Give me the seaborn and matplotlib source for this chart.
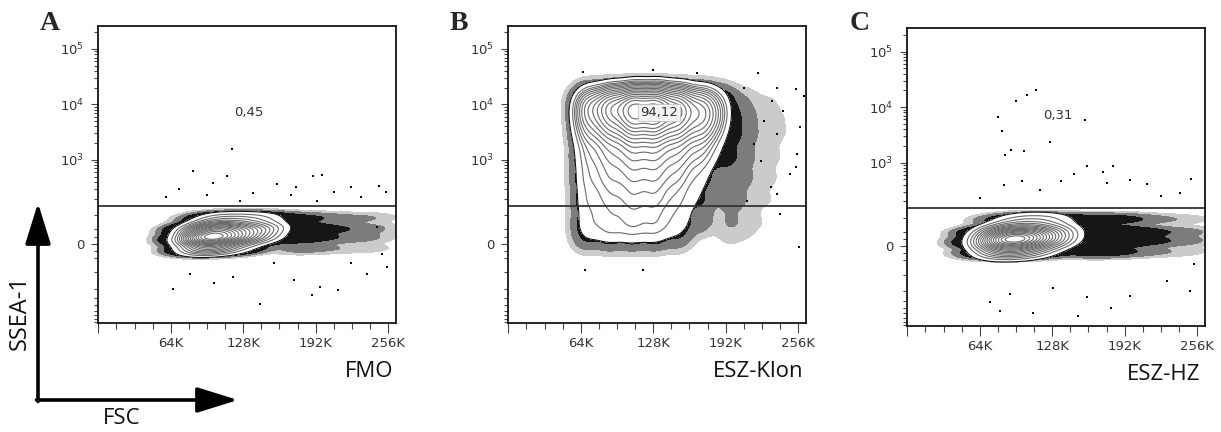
import numpy as np
import pandas as pd
import matplotlib.pyplot as plt
import seaborn as sns

sns.set_theme(style='white')
plt.rcParams['font.family'] = ['DejaVu Sans']

# Samples, panel letters and gate statistic (% SSEA-1+)
samples = ['FMO', 'ESZ-Klon', 'ESZ-HZ']
letters = ['A', 'B', 'C']
gate_pct = ['0,45', '94,12', '0,31']
gate_level = 150

# Axis ticks (FSC in K, SSEA-1 fluorescence)
fsc_ticks = [0, 64, 128, 192, 256]
fsc_labels = ['', '64K', '128K', '192K', '256K']
ssea_ticks = [0, 1e3, 1e4, 1e5]
ssea_labels = ['0', '$10^3$', '$10^4$', '$10^5$']

# ---- A: FMO ---- event density (grid of FSC x SSEA-1 weights)
a_cols = [80, 90, 100, 110, 122, 134, 146, 158]
a_rows = [90, 52, 20, -18]
a_core = [[0.0, 0.6, 1.0, 1.3, 1.4, 1.3, 1.0, 0.6],
          [1.5, 3.5, 4.5, 4.6, 4.0, 3.2, 2.3, 1.3],
          [3.0, 6.0, 7.0, 6.0, 4.5, 3.0, 1.6, 0.6],
          [1.4, 2.4, 2.6, 2.0, 1.2, 0.5, 0.0, 0.0]]
a_tail_cols = [176, 192, 210, 230, 248]
a_tail = [[0.5, 0.35, 0.25, 0.2, 0.15],
          [1.0, 0.65, 0.4, 0.3, 0.2],
          [0.8, 0.5, 0.3, 0.25, 0.15],
          [0.3, 0.2, 0.15, 0.1, 0.1]]
a_dot_x = [118, 84, 71, 114, 101, 158, 190, 198, 248, 254, 60, 137, 170, 208, 232, 96, 125, 223, 175, 193,
           66, 143, 189, 212, 255, 102, 119, 173, 237, 81, 155, 223, 196, 251, 246]
a_dot_y = [1600, 640, 300, 510, 380, 370, 510, 540, 340, 260, 213, 251, 228, 262, 213, 228, 185, 321, 321, 185,
           -207, -379, -262, -213, -82, -161, -122, -141, -107, -107, -70, -70, -185, -35, 59]

# ---- B: ESZ-Klon ----
b_cols = [70, 90, 110, 130, 150, 170, 185]
b_rows = [11500, 5800, 2800, 1150, 470, 190, 78, 25]
b_core = [[4.0, 7.0, 10.0, 10.0, 7.0, 4.0, 1.5],
          [3.5, 6.0, 9.0, 9.0, 7.0, 4.5, 2.0],
          [2.5, 4.0, 6.0, 6.0, 4.5, 3.0, 1.2],
          [2.0, 3.0, 4.0, 4.0, 3.0, 2.0, 0.6],
          [1.8, 2.5, 3.0, 3.0, 2.2, 1.2, 0.0],
          [1.6, 2.0, 2.4, 2.4, 1.6, 0.8, 0.0],
          [1.3, 1.6, 1.8, 1.7, 1.2, 0.5, 0.0],
          [0.8, 1.0, 1.0, 1.0, 0.6, 0.0, 0.0]]
b_tail_cols = [195, 210, 230, 250]
b_tail = [[0.4, 0.2, 0.08, 0.04],
          [0.7, 0.35, 0.12, 0.06],
          [0.8, 0.4, 0.15, 0.06],
          [0.7, 0.35, 0.12, 0.06],
          [0.55, 0.3, 0.1, 0.05],
          [0.4, 0.2, 0.08, 0.04],
          [0.25, 0.15, 0.06, 0.03],
          [0.1, 0.05, 0.03, 0.0]]
b_dot_x = [66, 128, 167, 221, 237, 254, 261, 243, 237, 255, 249, 237, 254, 223, 232, 240, 257, 68, 119,
           226, 217, 233, 211, 258, 208]
b_dot_y = [38400, 41700, 37300, 36300, 20100, 18700, 14200, 7650, 2920, 1280, 558, 244, 735, 968, 321, 106,
           -12, -92, -92, 5060, 1930, 11600, 185, 3850, 20100]

# ---- C: ESZ-HZ ----
c_cols = [70, 82, 94, 106, 118, 130, 142]
c_rows = [95, 50, 18, -20]
c_core = [[0.0, 0.6, 1.0, 1.2, 1.2, 0.9, 0.5],
          [2.0, 4.0, 4.8, 4.6, 3.6, 2.4, 1.2],
          [3.5, 6.5, 7.0, 5.8, 4.0, 2.4, 1.0],
          [1.4, 2.5, 2.6, 2.0, 1.1, 0.4, 0.0]]
c_tail_cols = [162, 176, 190, 205, 222, 240, 255]
c_tail = [[0.8, 0.7, 0.5, 0.3, 0.18, 0.12, 0.08],
          [2.0, 1.6, 1.1, 0.65, 0.38, 0.25, 0.18],
          [2.0, 1.6, 1.1, 0.65, 0.38, 0.25, 0.18],
          [0.8, 0.6, 0.4, 0.25, 0.16, 0.1, 0.07]]
c_dot_x = [80, 84, 86, 96, 106, 114, 103, 92, 126, 157, 159, 173, 182, 251, 197, 147, 85, 101, 136, 212,
           241, 64, 117, 176, 224,
           73, 82, 111, 151, 180, 197, 250, 159, 91, 229, 253, 129]
c_dot_y = [6760, 3640, 1350, 12900, 16600, 20400, 1590, 1700, 2340, 5890, 855, 676, 855, 507, 493, 623,
           400, 460, 460, 411, 284, 232, 327, 431, 248,
           -308, -448, -500, -558, -406, -240, -196, -258, -225, -129, -63, -176]


def biex(v):
    # biexponential-like display: linear around 0, log above 100
    v = np.asarray(v, float)
    a = np.abs(v)
    return np.sign(v) * np.where(a <= 100, a / 100 * 0.51, 0.51 + np.log10(np.maximum(a, 100) / 100))


def grid(cols, rows, w):
    xx, yy = np.meshgrid(cols, rows)
    df = pd.DataFrame({'fsc': xx.ravel().astype(float), 'ssea': biex(yy.ravel()), 'w': np.ravel(w)})
    return df[df['w'] > 0].reset_index(drop=True)


def kde(ax, df, bw, **kw):
    sns.kdeplot(data=df, x='fsc', y='ssea', weights='w', bw_adjust=bw, color='black', ax=ax, **kw)


panels = [
    (a_cols, a_rows, a_core, a_tail_cols, a_tail, a_dot_x, a_dot_y, 0.95, 0.72),
    (b_cols, b_rows, b_core, b_tail_cols, b_tail, b_dot_x, b_dot_y, 0.55, 0.42),
    (c_cols, c_rows, c_core, c_tail_cols, c_tail, c_dot_x, c_dot_y, 1.05, 0.68),
]
ax_pos = [[98.3, 323.3], [508.3, 323.3], [907.3, 326.0]]
W, H = 1221, 432

fig = plt.figure(figsize=(12.21, 4.32), dpi=100)

for i, (cols, rows, core_w, tcols, tail_w, dx, dy, bw, bw_halo) in enumerate(panels):
    left, bottom = ax_pos[i]
    ax = fig.add_axes([left / W, 1 - bottom / H, 297.7 / W, 297.6 / H])
    core = grid(cols, rows, core_w)
    halo = pd.concat([core, grid(tcols, rows, tail_w)], ignore_index=True)

    # outlier fringe: sparse speckle (light), dense dots (dark) next to the contours
    kde(ax, halo, bw_halo, fill=True, levels=[0.005, 0.018, 0.055, 1],
        colors=['#cbcbcb', '#7c7c7c', '#161616'])
    # white inside the outer contour
    kde(ax, core, bw, fill=True, levels=[0.05, 1], colors=['white'])
    sns.scatterplot(x=dx, y=biex(dy), s=4, marker='s', color='black', linewidth=0, ax=ax)
    n = 18
    kde(ax, core, bw, levels=n, thresh=0.05, colors=['#111111'] + ['#6a6a6a'] * (n - 1), linewidths=0.8)

    ax.axhline(biex(gate_level), color='#333333', lw=1.3)
    ax.set_xlim(0, 263)
    ax.set_ylim(biex(-843), biex(262144))
    ax.set_xlabel('')
    ax.set_ylabel('')

    ax.set_xticks(fsc_ticks)
    ax.set_xticklabels(fsc_labels)
    ax.set_xticks(np.arange(16, 263, 16), minor=True)
    ax.set_yticks(biex(ssea_ticks))
    ax.set_yticklabels(ssea_labels)
    minor_v = [m * 10 ** k for k in range(2, 6) for m in range(1, 10) if m * 10 ** k < 262144]
    minor_v += [-m * 100 for m in range(1, 9)] + [-50, -25, 25, 50]
    ax.set_yticks(biex(minor_v), minor=True)
    ax.tick_params(axis='both', which='both', direction='out', color='#444444', labelcolor='#333333',
                   labelsize=9.5, width=0.8, bottom=True, left=True)
    ax.tick_params(axis='x', which='major', length=7, pad=3)
    ax.tick_params(axis='x', which='minor', length=4)
    ax.tick_params(axis='y', which='major', length=5, pad=5)
    ax.tick_params(axis='y', which='minor', length=3)
    for s in ax.spines.values():
        s.set_color('black')
        s.set_linewidth(1.2)

    txt = ax.text(133, biex(7030), gate_pct[i], ha='center', va='center', fontsize=9.5, color='#333333')
    if i == 1:
        txt.set_bbox(dict(boxstyle='square,pad=0.15', fc='#f2f2f2', ec='#bbbbbb', lw=0.5))
    ax.text(0.99 if i < 2 else 0.985, -0.163, samples[i], transform=ax.transAxes, ha='right', va='center',
            fontsize=16, family='Open Sans', color='#111111')

for x, l in zip([40, 450, 850], letters):
    fig.text(x / W, 1 - 23 / H, l, ha='left', va='center', fontsize=20, fontweight='bold',
             family='Liberation Serif')

# FSC / SSEA-1 arrows
arrow = dict(arrowstyle='-|>,head_length=0.9,head_width=0.28', lw=2.6, color='black',
             mutation_scale=28, shrinkA=0, shrinkB=0)
fig.add_artist(plt.Annotation('', xy=(38, H - 203), xytext=(38, H - 401.5), xycoords='figure pixels',
                              textcoords='figure pixels', arrowprops=arrow))
fig.add_artist(plt.Annotation('', xy=(238, H - 400), xytext=(36.5, H - 400), xycoords='figure pixels',
                              textcoords='figure pixels', arrowprops=arrow))
fig.text(20 / W, 1 - 313 / H, 'SSEA-1', rotation=90, ha='center', va='center', fontsize=17,
         family='Open Sans', color='#111111')
fig.text(103 / W, 1 - 419 / H, 'FSC', ha='left', va='center', fontsize=16, family='Open Sans',
         color='#111111')

fig.savefig('out.png', dpi=100)
